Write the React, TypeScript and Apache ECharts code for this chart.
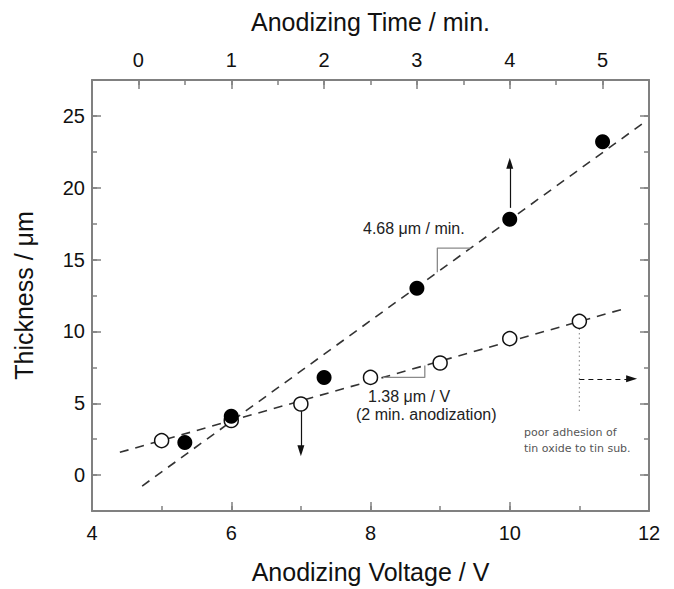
import React, { useEffect, useRef } from 'react';
import * as echarts from 'echarts';

// Open circles: thickness vs anodizing voltage (bottom axis, 2 min anodization)
const voltage = [5, 6, 7, 8, 9, 10, 11];
const thicknessByVoltage = [2.4, 3.8, 4.95, 6.8, 7.8, 9.5, 10.7];

// Filled circles: thickness vs anodizing time (top axis)
const anodizingTime = [0.5, 1, 2, 3, 4, 5];
const thicknessByTime = [2.27, 4.1, 6.8, 13.0, 17.8, 23.2];

// Linear fits (dashed lines)
const timeFitRange = [0.04, 5.46];
const timeFitSlope = 4.68;
const timeFitIntercept = -0.95;
const voltageFitRange = [4.4, 11.6];
const voltageFitSlope = 1.38;
const voltageFitIntercept = -4.49;

// Tick labels
const thicknessTickValues = [0, 5, 10, 15, 20, 25];
const timeTickValues = [0, 1, 2, 3, 4, 5];

// Annotation anchors (data units)
const upArrow = { time: 4, from: 18.6, to: 21.7 };
const downArrow = { voltage: 7, from: 4.45, to: 1.7 };
const dottedLine = { voltage: 11, from: 10.2, to: 4.3 };
const rightArrow = { thickness: 6.7, from: 11, to: 11.75 };
const timeTriangle = [3.22, 3.58];
const voltageTriangle = [8.18, 8.78];

const fitT = (t: number) => timeFitSlope * t + timeFitIntercept;
const fitV = (v: number) => voltageFitSlope * v + voltageFitIntercept;

const FONT = "'Liberation Sans', Arial, sans-serif";
const SMALL_FONT = "'DejaVu Sans', sans-serif";
const AXIS_COLOR = '#808080';

export default function App() {
  const ref = useRef<HTMLDivElement>(null);

  useEffect(() => {
    if (!ref.current) return;
    const chart = echarts.init(ref.current, undefined, { renderer: 'svg' });

    const axisLine = { show: true, onZero: false, lineStyle: { color: AXIS_COLOR, width: 2 } };
    const noLine = { show: false, onZero: false };
    const majorTick = { show: true, inside: true, length: 9, lineStyle: { color: AXIS_COLOR, width: 1.5 } };
    const minorTick = { show: true, inside: true, length: 5, lineStyle: { color: AXIS_COLOR, width: 1.5 } };
    const labelStyle = { color: '#111', fontSize: 20, fontFamily: FONT };
    const nameStyle = { color: '#111', fontSize: 25, fontFamily: FONT };

    const option: any = {
      animation: false,
      backgroundColor: '#ffffff',
      grid: { left: 92, right: 25, top: 80, bottom: 72, containLabel: false },
      xAxis: [
        {
          type: 'value', position: 'bottom', min: 4, max: 12, interval: 2,
          axisLine, axisTick: majorTick, splitLine: { show: false },
          axisLabel: { ...labelStyle, margin: 12 },
          name: 'Anodizing Voltage / V', nameLocation: 'middle', nameGap: 48, nameTextStyle: nameStyle,
        },
        {
          type: 'value', position: 'top', min: -0.5, max: 5.5,
          axisLine, splitLine: { show: false },
          axisTick: { ...majorTick, customValues: timeTickValues },
          axisLabel: { ...labelStyle, margin: 10, customValues: timeTickValues },
          name: 'Anodizing Time / min.', nameLocation: 'middle', nameGap: 46, nameTextStyle: nameStyle,
        },
        {
          type: 'value', position: 'bottom', min: 4, max: 12, interval: 1,
          axisLine: noLine, axisTick: minorTick, axisLabel: { show: false }, splitLine: { show: false },
        },
        {
          type: 'value', position: 'top', min: -0.5, max: 5.5, interval: 0.5,
          axisLine: noLine, axisTick: minorTick, axisLabel: { show: false }, splitLine: { show: false },
        },
      ],
      yAxis: [
        {
          type: 'value', position: 'left', min: -2.5, max: 27.5,
          axisLine, splitLine: { show: false },
          axisTick: { ...majorTick, customValues: thicknessTickValues },
          axisLabel: { ...labelStyle, margin: 7, customValues: thicknessTickValues },
          name: 'Thickness / μm', nameLocation: 'middle', nameGap: 56, nameTextStyle: nameStyle,
        },
        {
          type: 'value', position: 'right', min: -2.5, max: 27.5,
          axisLine, splitLine: { show: false },
          axisTick: { ...majorTick, customValues: thicknessTickValues },
          axisLabel: { show: false },
        },
        {
          type: 'value', position: 'left', min: -2.5, max: 27.5, interval: 2.5,
          axisLine: noLine, axisTick: minorTick, axisLabel: { show: false }, splitLine: { show: false },
        },
        {
          type: 'value', position: 'right', min: -2.5, max: 27.5, interval: 2.5,
          axisLine: noLine, axisTick: minorTick, axisLabel: { show: false }, splitLine: { show: false },
        },
      ],
      series: [
        {
          name: 'time fit', type: 'line', xAxisIndex: 1, yAxisIndex: 0,
          data: timeFitRange.map((t) => [t, fitT(t)]), symbol: 'none',
          lineStyle: { color: '#333', width: 1.6, type: [9, 7] }, z: 2,
        },
        {
          name: 'voltage fit', type: 'line', xAxisIndex: 0, yAxisIndex: 0,
          data: voltageFitRange.map((v) => [v, fitV(v)]), symbol: 'none',
          lineStyle: { color: '#333', width: 1.6, type: [9, 7] }, z: 2,
        },
        {
          name: 'time triangle', type: 'line', xAxisIndex: 1, yAxisIndex: 0, symbol: 'none',
          data: [
            [timeTriangle[0], fitT(timeTriangle[0])],
            [timeTriangle[0], fitT(timeTriangle[1])],
            [timeTriangle[1], fitT(timeTriangle[1])],
          ],
          lineStyle: { color: '#8a8a8a', width: 1.3 }, z: 2,
        },
        {
          name: 'voltage triangle', type: 'line', xAxisIndex: 0, yAxisIndex: 0, symbol: 'none',
          data: [
            [voltageTriangle[0], fitV(voltageTriangle[0])],
            [voltageTriangle[1], fitV(voltageTriangle[0])],
            [voltageTriangle[1], fitV(voltageTriangle[1])],
          ],
          lineStyle: { color: '#8a8a8a', width: 1.3 }, z: 2,
        },
        {
          name: 'dotted', type: 'line', xAxisIndex: 0, yAxisIndex: 0, symbol: 'none',
          data: [[dottedLine.voltage, dottedLine.from], [dottedLine.voltage, dottedLine.to]],
          lineStyle: { color: '#999', width: 1.2, type: [1.5, 3] }, z: 2,
        },
        {
          name: 'by voltage', type: 'scatter', xAxisIndex: 0, yAxisIndex: 0,
          data: voltage.map((v, i) => [v, thicknessByVoltage[i]]),
          symbol: 'circle', symbolSize: 14,
          itemStyle: { color: '#ffffff', borderColor: '#111', borderWidth: 1.5, opacity: 1 }, z: 5,
          markLine: {
            silent: true, label: { show: false },
            data: [
              [
                { coord: [downArrow.voltage, downArrow.from], symbol: 'none' },
                { coord: [downArrow.voltage, downArrow.to], symbol: 'triangle', symbolSize: [7, 11], symbolRotate: 180 },
              ],
              [
                { coord: [rightArrow.from, rightArrow.thickness], symbol: 'none', lineStyle: { type: [5, 4] } },
                { coord: [rightArrow.to, rightArrow.thickness], symbol: 'triangle', symbolSize: [7, 11], symbolRotate: -90 },
              ],
            ],
            lineStyle: { color: '#111', width: 1.2, type: 'solid' },
          },
        },
        {
          name: 'by time', type: 'scatter', xAxisIndex: 1, yAxisIndex: 0,
          data: anodizingTime.map((t, i) => [t, thicknessByTime[i]]),
          symbol: 'circle', symbolSize: 15,
          itemStyle: { color: '#000000', opacity: 1 }, z: 5,
          markLine: {
            silent: true, label: { show: false },
            data: [
              [
                { coord: [upArrow.time, upArrow.from], symbol: 'none' },
                { coord: [upArrow.time, upArrow.to], symbol: 'triangle', symbolSize: [7, 11] },
              ],
            ],
            lineStyle: { color: '#111', width: 1.2, type: 'solid' },
          },
        },
      ],
      graphic: [
        { type: 'text', left: 363, top: 220, style: { text: '4.68 μm / min.', fontSize: 16, fontFamily: FONT, fill: '#222' } },
        { type: 'text', left: 368, top: 388, style: { text: '1.38 μm / V', fontSize: 16, fontFamily: FONT, fill: '#222' } },
        { type: 'text', left: 356, top: 406, style: { text: '(2 min. anodization)', fontSize: 16, fontFamily: FONT, fill: '#222' } },
        { type: 'text', left: 524, top: 427, style: { text: 'poor adhesion of', fontSize: 11, fontFamily: SMALL_FONT, fill: '#555' } },
        { type: 'text', left: 524, top: 443, style: { text: 'tin oxide to tin sub.', fontSize: 11, fontFamily: SMALL_FONT, fill: '#555' } },
      ],
    };

    chart.setOption(option);
    return () => chart.dispose();
  }, []);

  return (
    <div
      ref={ref}
      style={{ position: 'fixed', left: 0, top: 0, width: 674, height: 589, background: '#fff' }}
    />
  );
}
